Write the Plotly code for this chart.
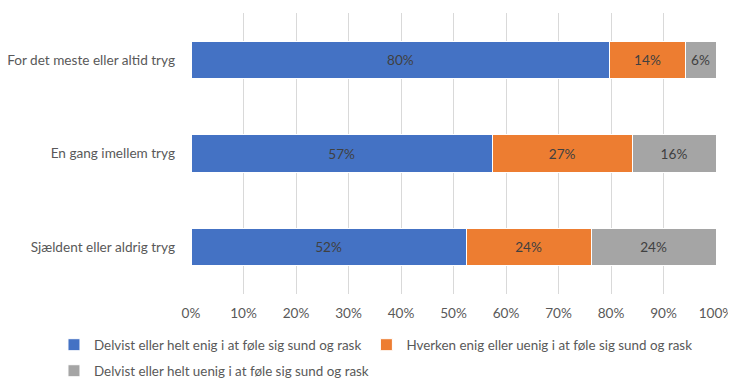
import plotly.graph_objects as go

categories = ["For det meste eller altid tryg", "En gang imellem tryg", "Sjældent eller aldrig tryg"]
series_names = [
    "Delvist eller helt enig i at føle sig sund og rask",
    "Hverken enig eller uenig i at føle sig sund og rask",
    "Delvist eller helt uenig i at føle sig sund og rask",
]
enig = [79.8, 57.4, 52.4]
hverken = [14.3, 26.6, 23.8]
uenig = [5.9, 16.0, 23.8]
colors = ["#4472C4", "#ED7D31", "#A5A5A5"]
legend_ids = ["legend", "legend", "legend2"]
tick_vals = [0, 10, 20, 30, 40, 50, 60, 70, 80, 90, 100]
tick_text = [f"{v}%" for v in tick_vals]

FONT = "Lato"
FS = 13.6

fig = go.Figure()
for name, vals, col, lg in zip(series_names, [enig, hverken, uenig], colors, legend_ids):
    fig.add_trace(go.Bar(
        y=categories, x=vals, name=name, orientation="h",
        marker=dict(color=col, line=dict(color="white", width=1)),
        text=[f"{round(v)}%" for v in vals],
        textposition="inside", insidetextanchor="middle", textangle=0,
        constraintext="none",
        textfont=dict(family=FONT, size=FS, color="#404040"),
        hoverinfo="skip",
        legend=lg,
    ))

legend_style = dict(
    orientation="h", xanchor="left", yanchor="top",
    itemwidth=30, traceorder="normal",
    font=dict(family=FONT, size=13.4, color="#595959"),
    tracegroupgap=0, bgcolor="rgba(0,0,0,0)",
)

# page body has an 8px default margin, so the figure is sized 8px smaller
fig.update_layout(
    barmode="stack",
    bargap=0.6,
    width=728, height=371,
    margin=dict(l=183, r=20, t=5, b=85, autoexpand=False),
    paper_bgcolor="white", plot_bgcolor="white",
    font=dict(family=FONT, size=FS, color="#595959"),
    showlegend=True,
    legend=dict(x=-0.261, y=-0.1263, **legend_style),
    legend2=dict(x=-0.261, y=-0.2189, **legend_style),
)
fig.update_xaxes(
    range=[0, 100], tickvals=tick_vals, ticktext=tick_text,
    showgrid=True, gridcolor="#D9D9D9", gridwidth=1, automargin=False,
    zeroline=False, showline=False, ticks="", ticklabelstandoff=9,
    tickfont=dict(family=FONT, size=FS, color="#595959"),
)
fig.update_yaxes(
    categoryorder="array", categoryarray=categories, autorange="reversed",
    showgrid=False, showline=False, ticks="", ticklabelstandoff=15, automargin=False,
    tickfont=dict(family=FONT, size=FS, color="#595959"),
)
fig.write_html("out.html")
